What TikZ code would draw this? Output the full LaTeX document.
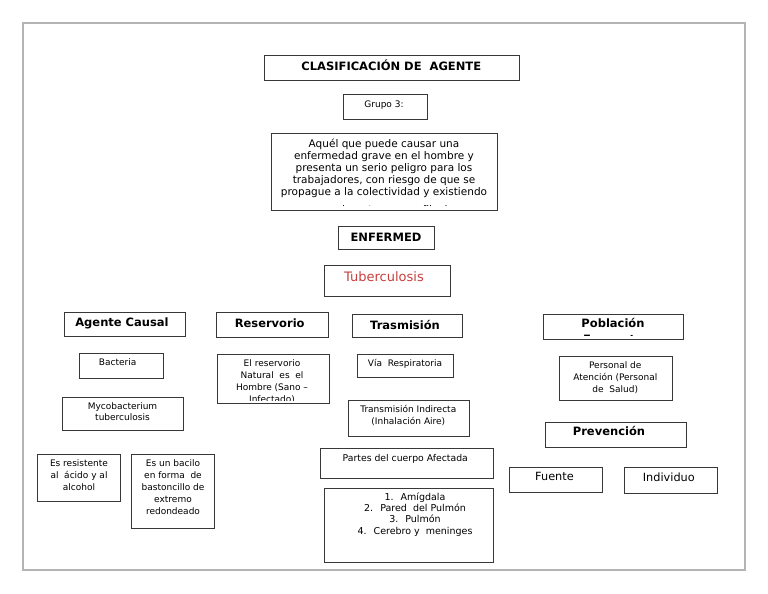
\documentclass[tikz,border=0pt]{standalone}
\usepackage{fontspec}
\setmainfont{DejaVu Sans}
\definecolor{tbred}{HTML}{C8403F}
\definecolor{framegray}{HTML}{B4B4B4}
\definecolor{boxline}{HTML}{383838}
\tikzset{
  box/.style={draw=boxline, line width=1pt, inner sep=0pt, fill=none},
  txt/.style={inner sep=0pt, outer sep=0pt, align=center, text=black},
  ttl/.style={txt, font=\bfseries\fontsize{11.5}{14}\selectfont},
  sm/.style={txt, font=\fontsize{9}{#1}\selectfont},
  sm/.default={11.8}
}
\newcommand\mybox[5]{\node[box, minimum width={(#4-#2)*1pt}, minimum height={(#5-#3)*1pt}] (#1) at ({(#2+#4)/2},{(#3+#5)/2}) {};}
\begin{document}
\begin{tikzpicture}[x=1pt,y=-1pt]
\useasboundingbox (0,0) rectangle (768,594);
\fill[white] (0,0) rectangle (768,594);
\node[draw=framegray, line width=1.5pt, minimum width=722pt, minimum height=547pt, inner sep=0pt] (page) at (384,296.5) {};

% boxes
\mybox{clas}{264}{56}{519}{80}
\mybox{grupo}{343}{94}{427}{119}
\mybox{aq}{271}{133}{497}{210}
\mybox{enf}{338}{226}{434}{249}
\mybox{tb}{324}{265}{450}{296}
\mybox{ag}{64}{312}{185}{336}
\mybox{res}{216}{312}{328}{337}
\mybox{bac}{79}{353}{163}{378}
\mybox{myc}{62}{397}{183}{430}
\mybox{elr}{217}{354}{329}{403}
\mybox{esr}{37}{454}{120}{501}
\mybox{esu}{131}{454}{214}{528}
\mybox{tra}{352}{314}{462}{337}
\mybox{via}{357}{354}{453}{377}
\mybox{tin}{348}{400}{469}{436}
\mybox{par}{320}{448}{493}{478}
\mybox{list}{324}{488}{493}{562}
\mybox{pob}{543}{314}{683}{339}
\mybox{per}{559}{356}{672}{400}
\mybox{prev}{545}{422}{686}{447}
\mybox{fue}{509}{467}{602}{492}
\mybox{ind}{624}{467}{717}{493}

% single-line texts
\node[ttl, anchor=base] (clasT) at (391.3,70.7) {CLASIFICACIÓN DE~ AGENTE};
\node[sm, anchor=base] (grupoT) at (384,107) {Grupo 3:};
\node[ttl, anchor=base] (enfT) at (386,241) {ENFERMED};
\node[txt, anchor=base, text=tbred, font=\fontsize{13}{15}\selectfont] (tbT) at (384,281.5) {Tuberculosis};
\node[ttl, anchor=base] (agT) at (122,326.5) {Agente Causal};
\node[ttl, anchor=base] (resT) at (269.7,327.3) {Reservorio};
\node[sm, anchor=base] (bacT) at (117.7,365.7) {Bacteria};
\node[ttl, anchor=base] (traT) at (405,329.3) {Trasmisión};
\node[sm, anchor=base] (viaT) at (405,366.7) {Vía~ Respiratoria};
\node[txt, anchor=base, font=\fontsize{9.3}{12}\selectfont] (parT) at (405.3,461) {Partes del cuerpo Afectada};
\node[ttl, anchor=base] (prevT) at (609,435) {Prevención};
\node[txt, anchor=base, font=\fontsize{11.3}{14}\selectfont] (fueT) at (554.5,480) {Fuente};
\node[txt, anchor=base, font=\fontsize{11.3}{14}\selectfont] (indT) at (668.8,481.7) {Individuo};

% multi-line texts
\begin{scope}
  \clip (271,133) rectangle (497,205.3);
  \node[txt, anchor=north, font=\fontsize{10.5}{12.1}\selectfont] (aqT) at (384,138.9)
    {Aquél que puede causar una\\enfermedad grave en el hombre y\\presenta un serio peligro para los\\trabajadores, con riesgo de que se\\propague a la colectividad y existiendo\\[6pt]generalmente una profilaxis o};
\end{scope}
\node[sm=11.4, anchor=north] (mycT) at (122.5,402.5) {Mycobacterium\\tuberculosis};
\begin{scope}
  \clip (217,354) rectangle (329,400);
  \node[sm=12, anchor=north] (elrT) at (272,359.2) {El reservorio\\Natural~ es~ el\\Hombre (Sano –\\Infectado)};
\end{scope}
\node[sm=11.7, anchor=north] (esrT) at (79,460.1) {Es resistente\\al~ ácido y al\\alcohol};
\node[sm=12, anchor=north] (esuT) at (173,459.9) {Es un bacilo\\en forma~ de\\bastoncillo de\\extremo\\redondeado};
\node[sm=12, anchor=north] (tinT) at (408.3,405.5) {Transmisión Indirecta\\(Inhalación Aire)};
\node[txt, anchor=north, font=\fontsize{9.5}{11.4}\selectfont] (listT) at (415,492.4)
  {1.~ Amígdala\\2.~ Pared~ del Pulmón\\3.~ Pulmón\\4.~ Cerebro y~ meninges};
\begin{scope}
  \clip (543,314) rectangle (683,335.8);
  \node[txt, anchor=north, font=\bfseries\fontsize{11.5}{15.6}\selectfont] (pobT) at (613,318.3) {Población\\Expuesta};
\end{scope}
\node[sm=12, anchor=north] (perT) at (615.3,361.5) {Personal de\\Atención (Personal\\de~ Salud)};
\end{tikzpicture}
\end{document}
